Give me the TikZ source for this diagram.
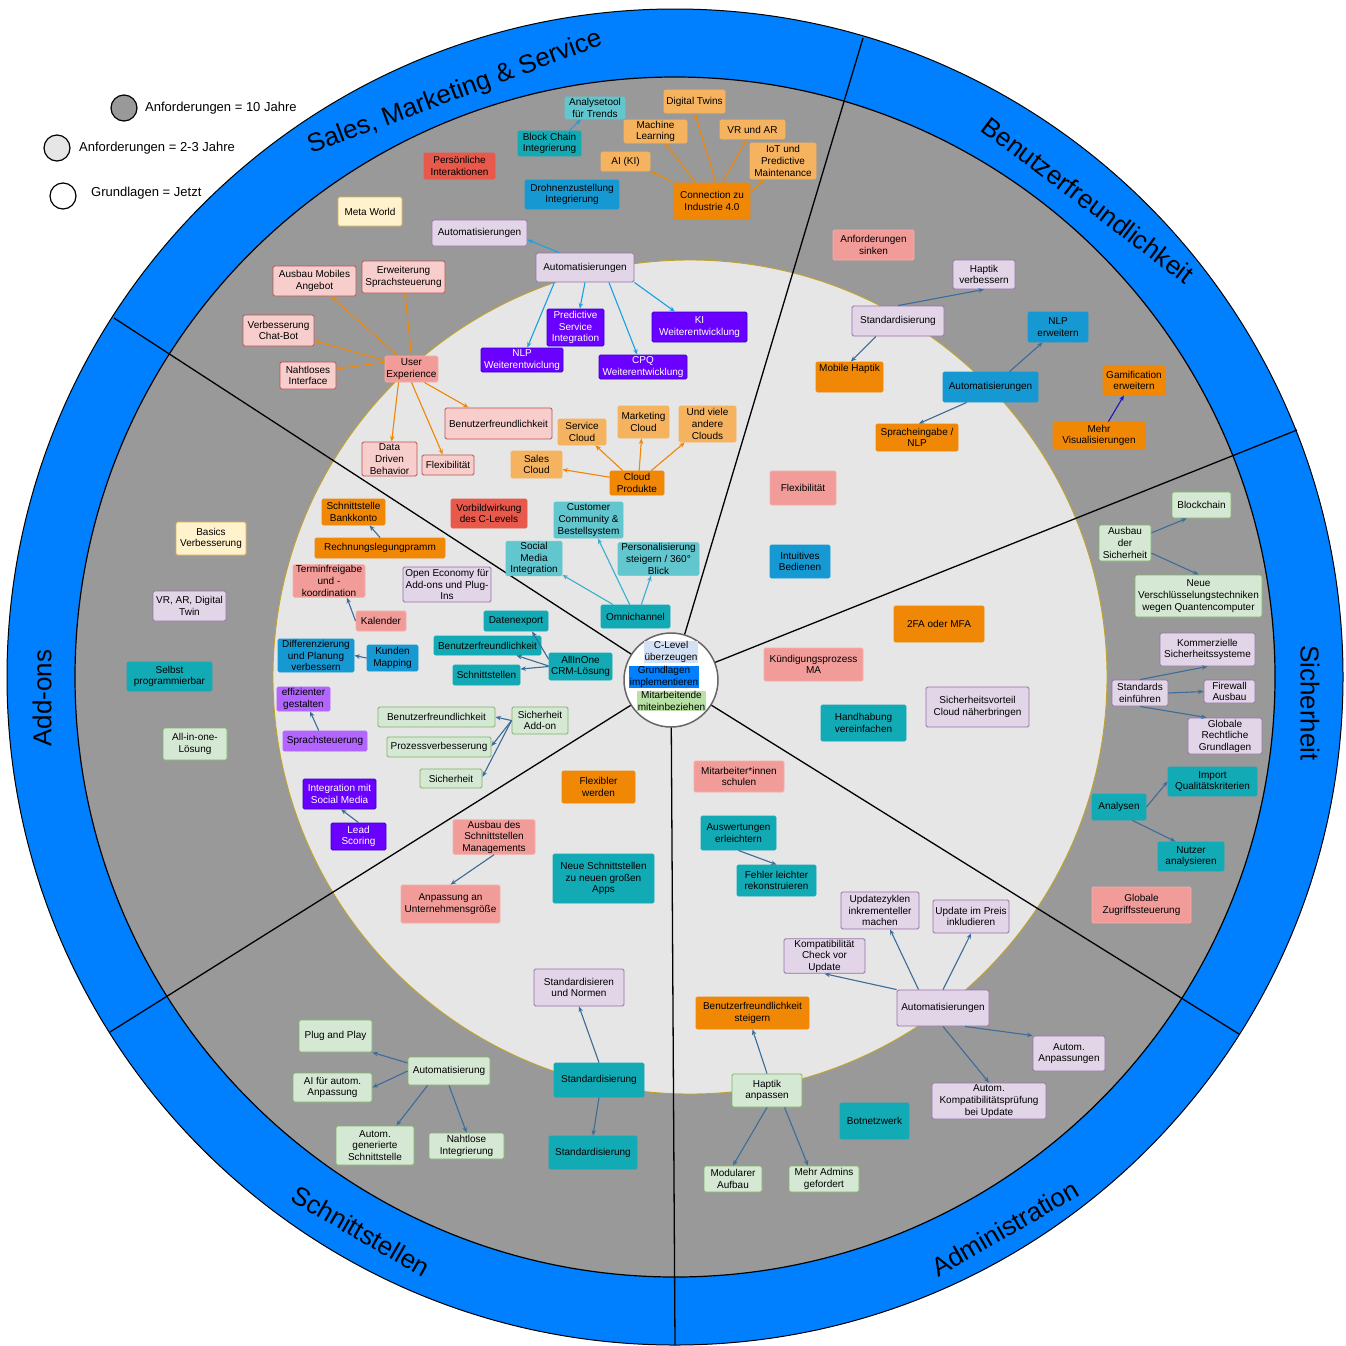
\documentclass[tikz,border=0pt]{standalone}
\usepackage{fontspec}
\setmainfont{Liberation Sans}
\usetikzlibrary{arrows.meta}

\definecolor{ringblue}{HTML}{007FFF}
\definecolor{ringgray}{HTML}{999999}
\definecolor{corelight}{HTML}{E6E6E6}
\definecolor{coreedge}{HTML}{BFA22A}
\definecolor{pinkF}{HTML}{F8CECC}\definecolor{pinkD}{HTML}{B85450}
\definecolor{salF}{HTML}{F19C99}\definecolor{salD}{HTML}{F4AEAB}
\definecolor{redF}{HTML}{E9594B}
\definecolor{yelF}{HTML}{FFF2CC}\definecolor{yelD}{HTML}{D6B656}
\definecolor{lilF}{HTML}{E1D5E7}\definecolor{lilD}{HTML}{9673A6}
\definecolor{orlF}{HTML}{F6B35F}
\definecolor{ordF}{HTML}{F08705}
\definecolor{tealL}{HTML}{62C6CF}
\definecolor{tealF}{HTML}{12AAB5}
\definecolor{bluF}{HTML}{1699D3}
\definecolor{vioF}{HTML}{6A00FF}\definecolor{vioD}{HTML}{3700CC}
\definecolor{lvioF}{HTML}{B266FF}
\definecolor{grnF}{HTML}{D5E8D4}\definecolor{grnD}{HTML}{82B366}
\definecolor{arrOr}{HTML}{F08705}
\definecolor{arrLb}{HTML}{1BA1E2}
\definecolor{arrCy}{HTML}{3AB0CE}
\definecolor{arrSt}{HTML}{3D6D99}
\definecolor{arrNv}{HTML}{1A1AB0}
\definecolor{hlBlue}{HTML}{D4E1F5}
\definecolor{hlDeep}{HTML}{007FFF}
\definecolor{hlGreen}{HTML}{B9E0A5}

% box given by its corners (x1,y1) (x2,y2), y counted downwards
\newcommand\bxn[7]{%
  \pgfmathsetmacro\bcx{(#2+#4)/2}%
  \pgfmathsetmacro\bcy{(#3+#5)/2}%
  \pgfmathsetmacro\bw{#4-#2}%
  \pgfmathsetmacro\bh{#5-#3}%
  \node[box,#6,minimum width=\bw pt,minimum height=\bh pt] (#1) at (\bcx,\bcy) {#7};}

\begin{document}
\begin{tikzpicture}[x=1pt,y=-1pt,
  box/.style={rectangle,rounded corners=1.5pt,line width=0.9pt,inner sep=1pt,
    align=center,font=\fontsize{10}{11.6}\selectfont},
  pinkb/.style={fill=pinkF,draw=pinkD},
  salb/.style={fill=salF,draw=salD},
  redb/.style={fill=redF,draw=redF},
  yelb/.style={fill=yelF,draw=yelD},
  lilb/.style={fill=lilF,draw=lilD},
  orlb/.style={fill=orlF,draw=orlF},
  ordb/.style={fill=ordF,draw=ordF},
  tlb/.style={fill=tealL,draw=tealL},
  tdb/.style={fill=tealF,draw=tealF},
  blub/.style={fill=bluF,draw=bluF},
  viob/.style={fill=vioF,draw=vioD,text=white},
  lviob/.style={fill=lvioF,draw=lvioF},
  grnb/.style={fill=grnF,draw=grnD},
  arr/.style={line width=1.1pt,-{Stealth[length=5.5pt,width=4.5pt]}},
  ao/.style={arr,draw=arrOr,fill=arrOr},
  alb/.style={arr,draw=arrLb,fill=arrLb},
  acy/.style={arr,draw=arrCy,fill=arrCy},
  ast/.style={arr,draw=arrSt,fill=arrSt},
  anv/.style={arr,draw=arrNv,fill=arrNv},
  divline/.style={line width=1.3pt,black},
  sectitle/.style={font=\fontsize{26}{30}\selectfont,inner sep=0pt},
  legtext/.style={font=\fontsize{13}{15}\selectfont,inner sep=0pt,anchor=west},
  legdot/.style={circle,draw=black,line width=1.2pt,minimum size=26pt,inner sep=0pt},
  hl/.style={inner xsep=0.5pt,inner ysep=0.3pt,align=center,font=\fontsize{10}{12}\selectfont},
]
\useasboundingbox (0,0) rectangle (1346,1345);

% rings
\fill[ringblue,draw=black,line width=1pt] (675,677) circle[radius=668pt];
\fill[ringgray,draw=black,line width=1.2pt] (675,677) circle[radius=600pt];
\fill[corelight,draw=coreedge,line width=0.9pt] (690,677) circle[radius=417pt];

% sector dividers
\coordinate (ctr) at (671,680);
\coordinate (d1) at (863,38);
\coordinate (d2) at (1297,430);
\coordinate (d3) at (1239,1034);
\coordinate (d4) at (675,1345);
\coordinate (d5) at (110,1032);
\coordinate (d6) at (114,318);
\foreach \d in {d1,d2,d3,d4,d5,d6} \draw[divline] (ctr) -- (\d);

% core
\node[circle,fill=white,draw=black!60,line width=1.5pt,minimum size=94pt,inner sep=0pt] (core) at (671,680) {};
\node[hl,fill=hlBlue] (cl1) at (671,652) {C-Level\\überzeugen};
\node[hl,fill=hlDeep] (cl2) at (664,677) {Grundlagen\\implementieren};
\node[hl,fill=hlGreen] (cl3) at (671.5,701) {Mitarbeitende\\miteinbeziehen};

% section titles
\node[sectitle,rotate=20.5] (tsales) at (455,93) {Sales, Marketing \& Service};
\node[sectitle,rotate=-37] (tbenu) at (1088,200) {Benutzerfreundlichkeit};
\node[sectitle,rotate=-90] (tsich) at (1310,703) {Sicherheit};
\node[sectitle,rotate=30] (tadmin) at (1005,1228) {Administration};
\node[sectitle,rotate=-30] (tschn) at (361,1231) {Schnittstellen};
\node[sectitle,rotate=90] (tadd) at (42,698) {Add-ons};

% legend
\node[legdot,fill=ringgray] (lg1) at (124,108) {};
\node[legtext] (lt1) at (145,108) {Anforderungen = 10 Jahre};
\node[legdot,fill=corelight] (lg2) at (57,148) {};
\node[legtext] (lt2) at (79,148) {Anforderungen = 2-3 Jahre};
\node[legdot,fill=white] (lg3) at (63,196) {};
\node[legtext] (lt3) at (91,193) {Grundlagen = Jetzt};

% ---- Sales, Marketing & Service
\bxn{pers}{424}{153}{495}{179}{redb}{Persönliche\\Interaktionen}
\bxn{meta}{338}{197}{402}{226}{yelb}{Meta World}
\bxn{auto1}{432}{220}{527}{246}{lilb}{Automatisierungen}
\bxn{ausm}{273}{266}{356}{296}{pinkb}{Ausbau Mobiles\\Angebot}
\bxn{erwsp}{362}{261}{445}{293}{pinkb}{Erweiterung\\Sprachsteuerung}
\bxn{vchat}{243}{315}{314}{346}{pinkb}{Verbesserung\\Chat-Bot}
\bxn{naht}{280}{362}{336}{389}{pinkb}{Nahtloses\\Interface}
\bxn{ux}{385}{356}{438}{382}{salb}{User\\Experience}
\bxn{ddb}{362}{442}{417}{476}{pinkb}{Data\\Driven\\Behavior}
\bxn{flex1}{422}{455}{474}{475}{pinkb}{Flexibilität}
\bxn{bf1}{445}{408}{552}{439}{pinkb}{Benutzerfreundlichkeit}
\bxn{ana}{565}{97}{625}{119}{tlb}{Analysetool\\für Trends}
\bxn{dtw}{664}{90}{725}{113}{orlb}{Digital Twins}
\bxn{ml}{624}{120}{687}{143}{orlb}{Machine\\Learning}
\bxn{vrar}{720}{120}{785}{139}{orlb}{VR und AR}
\bxn{iot}{750}{143}{816}{179}{orlb}{IoT und\\Predictive\\Maintenance}
\bxn{ai}{601}{152}{650}{171}{orlb}{AI (KI)}
\bxn{bc}{518}{131}{581}{156}{tdb}{Block Chain\\Integrierung}
\bxn{dro}{525}{180}{619}{209}{blub}{Drohnenzustellung\\Integrierung}
\bxn{conn}{674}{183}{750}{219}{ordb}{Connection zu\\Industrie 4.0}
\bxn{auto2}{536}{253}{634}{282}{lilb}{Automatisierungen}
\bxn{pred}{547}{309}{604}{346}{viob}{Predictive\\Service\\Integration}
\bxn{ki}{652}{312}{747}{342}{viob}{KI\\Weiterentwicklung}
\bxn{nlp}{481}{348}{563}{372}{viob}{NLP\\Weiterentwiclung}
\bxn{cpq}{599}{355}{687}{379}{viob}{CPQ\\Weiterentwicklung}
\bxn{svc}{558}{419}{606}{445}{orlb}{Service\\Cloud}
\bxn{mkc}{618}{406}{669}{438}{orlb}{Marketing\\Cloud}
\bxn{uvc}{679}{406}{736}{442}{orlb}{Und viele\\andere\\Clouds}
\bxn{slc}{511}{451}{562}{478}{orlb}{Sales\\Cloud}
\bxn{cld}{610}{471}{664}{495}{ordb}{Cloud\\Produkte}
\bxn{vorb}{451}{499}{527}{528}{redb}{Vorbildwirkung\\des C-Levels}
\bxn{cust}{554}{502}{623}{538}{tlb}{Customer\\Community \&\\Bestellsystem}
\bxn{smi}{506}{542}{562}{575}{tlb}{Social\\Media\\Integration}
\bxn{pers2}{618}{543}{699}{575}{tlb}{Personalisierung\\steigern / 360°\\Blick}
\bxn{omni}{601}{605}{670}{628}{tdb}{Omnichannel}

% ---- Benutzerfreundlichkeit
\bxn{anfs}{833}{230}{914}{260}{salb}{Anforderungen\\sinken}
\bxn{std1}{852}{306}{944}{336}{lilb}{Standardisierung}
\bxn{hapv}{953}{260}{1015}{289}{lilb}{Haptik\\verbessern}
\bxn{mobh}{816}{362}{883}{392}{ordb}{Mobile Haptik\\[6pt]}
\bxn{nlpe}{1028}{312}{1088}{342}{blub}{NLP\\erweitern}
\bxn{autob}{943}{372}{1038}{402}{blub}{Automatisierungen}
\bxn{gam}{1103}{366}{1165}{395}{ordb}{Gamification\\erweitern}
\bxn{mvis}{1053}{422}{1145}{449}{ordb}{Mehr\\Visualisierungen}
\bxn{spr}{876}{424}{958}{451}{ordb}{Spracheingabe /\\NLP}
\bxn{flex2}{770}{471}{836}{505}{salb}{Flexibilität}
\bxn{intu}{770}{545}{830}{578}{blub}{Intuitives\\Bedienen}
\bxn{tfa}{894}{606}{984}{642}{ordb}{2FA oder MFA}
\bxn{kuend}{764}{648}{863}{681}{salb}{Kündigungsprozess\\MA}
\bxn{hand}{821}{705}{906}{741}{tdb}{Handhabung\\vereinfachen}
\bxn{sichv}{926}{687}{1029}{727}{lilb}{Sicherheitsvorteil\\Cloud näherbringen}

% ---- Sicherheit
\bxn{blk}{1172}{492}{1231}{518}{grnb}{Blockchain}
\bxn{ausS}{1099}{525}{1151}{561}{grnb}{Ausbau\\der\\Sicherheit}
\bxn{neuv}{1135}{575}{1262}{617}{grnb}{Neue\\Verschlüsselungstechniken\\wegen Quantencomputer}
\bxn{komm}{1160}{633}{1255}{666}{lilb}{Kommerzielle\\Sicherheitssysteme}
\bxn{stde}{1112}{680}{1168}{706}{lilb}{Standards\\einführen}
\bxn{fire}{1204}{680}{1255}{703}{lilb}{Firewall\\Ausbau}
\bxn{glrg}{1188}{718}{1262}{754}{lilb}{Globale\\Rechtliche\\Grundlagen}
\bxn{imp}{1168}{767}{1257}{796}{tdb}{Import\\Qualitätskriterien}
\bxn{anal}{1092}{794}{1146}{820}{tdb}{Analysen}
\bxn{nutz}{1158}{842}{1224}{871}{tdb}{Nutzer\\analysieren}
\bxn{glz}{1092}{887}{1191}{923}{salb}{Globale\\Zugriffssteuerung}

% ---- Administration
\bxn{mita}{694}{761}{784}{792}{salb}{Mitarbeiter*innen\\schulen}
\bxn{ausw}{701}{816}{776}{850}{tdb}{Auswertungen\\erleichtern}
\bxn{fehl}{737}{865}{816}{896}{tdb}{Fehler leichter\\rekonstruieren}
\bxn{updz}{841}{892}{919}{929}{lilb}{Updatezyklen\\inkrementeller\\machen}
\bxn{updp}{933}{900}{1009}{933}{lilb}{Update im Preis\\inkludieren}
\bxn{komc}{784}{939}{865}{973}{lilb}{Kompatibilität\\Check vor\\Update}
\bxn{autoa}{897}{990}{989}{1026}{lilb}{Automatisierungen}
\bxn{autan}{1033}{1036}{1105}{1071}{lilb}{Autom.\\Anpassungen}
\bxn{autk}{932}{1083}{1046}{1119}{lilb}{Autom.\\Kompatibilitätsprüfung\\bei Update}
\bxn{bfst}{696}{997}{809}{1029}{ordb}{Benutzerfreundlichkeit\\steigern}
\bxn{hapa}{732}{1074}{802}{1107}{grnb}{Haptik\\anpassen}
\bxn{mod}{704}{1166}{762}{1192}{grnb}{Modularer\\Aufbau}
\bxn{madm}{789}{1166}{859}{1192}{grnb}{Mehr Admins\\gefordert}
\bxn{bot}{840}{1103}{909}{1139}{tdb}{Botnetzwerk}

% ---- Schnittstellen
\bxn{flexw}{562}{771}{635}{803}{ordb}{Flexibler\\werden}
\bxn{ausb}{453}{821}{535}{853}{salb}{Ausbau des\\Schnittstellen\\Managements}
\bxn{anp}{401}{885}{500}{923}{salb}{Anpassung an\\Unternehmensgröße}
\bxn{neus}{553}{854}{654}{903}{tdb}{Neue Schnittstellen\\zu neuen großen\\Apps}
\bxn{stdn}{534}{969}{624}{1006}{lilb}{Standardisieren\\und Normen}
\bxn{stdm}{554}{1063}{644}{1097}{tdb}{Standardisierung}
\bxn{stdl}{549}{1136}{637}{1169}{tdb}{Standardisierung}
\bxn{plug}{299}{1020}{372}{1052}{grnb}{Plug and Play}
\bxn{aifa}{293}{1073}{372}{1102}{grnb}{AI für autom.\\Anpassung}
\bxn{autg}{408}{1057}{490}{1085}{grnb}{Automatisierung}
\bxn{autgs}{336}{1126}{414}{1165}{grnb}{Autom.\\generierte\\Schnittstelle}
\bxn{nahtI}{429}{1133}{504}{1159}{grnb}{Nahtlose\\Integrierung}

% ---- Add-ons
\bxn{basic}{176}{522}{246}{555}{yelb}{Basics\\Verbesserung}
\bxn{vrad}{153}{591}{226}{621}{lilb}{VR, AR, Digital\\Twin}
\bxn{selbst}{127}{662}{212}{691}{tdb}{Selbst\\programmierbar}
\bxn{allin}{163}{728}{227}{760}{grnb}{All-in-one-\\Lösung}
\bxn{sbk}{322}{499}{385}{525}{ordb}{Schnittstelle\\Bankkonto}
\bxn{rech}{315}{538}{445}{558}{ordb}{Rechnungslegungpramm}
\bxn{term}{293}{565}{365}{597}{salb}{Terminfreigabe\\und -\\koordination}
\bxn{open}{403}{567}{491}{602}{lilb}{Open Economy für\\Add-ons und Plug-\\Ins}
\bxn{kal}{356}{611}{406}{631}{salb}{Kalender}
\bxn{diff}{278}{639}{354}{672}{blub}{Differenzierung\\und Planung\\verbessern}
\bxn{kund}{367}{645}{418}{671}{blub}{Kunden\\Mapping}
\bxn{eff}{277}{687}{330}{711}{lviob}{effizienter\\gestalten}
\bxn{sprs}{283}{731}{367}{751}{lviob}{Sprachsteuerung}
\bxn{ism}{303}{779}{376}{809}{viob}{Integration mit\\Social Media}
\bxn{lead}{331}{823}{386}{850}{viob}{Lead\\Scoring}
\bxn{dexp}{484}{611}{548}{631}{tdb}{Datenexport}
\bxn{bft}{434}{636}{541}{655}{tdb}{Benutzerfreundlichkeit}
\bxn{schn}{453}{665}{520}{685}{tdb}{Schnittstellen}
\bxn{allcrm}{549}{653}{612}{680}{tdb}{AllInOne\\CRM-Lösung}
\bxn{bfg}{378}{707}{495}{727}{grnb}{Benutzerfreundlichkeit}
\bxn{proz}{387}{737}{491}{757}{grnb}{Prozessverbesserung}
\bxn{sich}{420}{769}{482}{788}{grnb}{Sicherheit}
\bxn{sadd}{512}{707}{568}{734}{grnb}{Sicherheit\\Add-on}

% ---- connectors
\draw[ao] (ux.136) -- (ausm.-43);
\draw[ao] (ux.90) -- (erwsp.-85);
\draw[ao] (ux.162) -- (vchat.-16);
\draw[ao] (ux.166) -- (naht.13);
\draw[ao] (ux.-134) -- (ddb.83);
\draw[ao] (ux.-90) -- (flex1.117);
\draw[ao] (ux.-46) -- (bf1.152);

\draw[ao] (conn.north west) -- (ai.south east);
\draw[ao] (conn.132) -- (ml.-50);
\draw[ao] (conn.78) -- (dtw.-88);
\draw[ao] (conn.61) -- (vrar.-120);
\draw[ao] (conn.13) -- (iot.-135);

\draw[alb] (bc.33) -- (ana.-141);
\draw[alb] (auto2.150) -- (auto1.-8);
\draw[alb] (auto2.-154) -- (nlp.67);
\draw[alb] (auto2.-90) -- (pred.77);
\draw[alb] (auto2.-32) -- (cpq.115);
\draw[alb] (auto2.south east) -- (ki.148);

\draw[ao] (cld.168) -- (slc.-11);
\draw[ao] (cld.139) -- (svc.-45);
\draw[ao] (cld.80) -- (mkc.-97);
\draw[ao] (cld.41) -- (uvc.-141);

\draw[acy] (omni.152) -- (smi.-30);
\draw[acy] (omni.116) -- (cust.-63);
\draw[acy] (omni.64) -- (pers2.-114);

\draw[ast] (allcrm.167) -- (dexp.-33);
\draw[ast] (allcrm.179) -- (bft.-19);
\draw[ast] (allcrm.180) -- (schn.10);

\draw[ast] (sadd.west) -- (bfg.east);
\draw[ast] (sadd.west) -- (proz.1);
\draw[ast] (sadd.west) -- (sich.3);

\draw[ast] (rech.north) -- (sbk.-40);
\draw[ast] (kal.west) -- (term.-43);
\draw[ast] (kund.west) -- (diff.east);
\draw[ast] (sprs.121) -- (eff.-62);
\draw[ast] (lead.north) -- (ism.-84);
\draw[ast] (ausb.south) -- (anp.north);

\draw[ast] (std1.north) -- (hapv.south);
\draw[ast] (std1.-145) -- (mobh.85);
\draw[ast] (autob.39) -- (nlpe.-135);
\draw[ast] (autob.-147) -- (spr.82);
\draw[anv] (mvis.56) -- (gam.-124);

\draw[ast] (ausS.21) -- (blk.-138);
\draw[ast] (ausS.-21) -- (neuv.north);
\draw[ast] (stde.north) -- (komm.south);
\draw[ast] (stde.east) -- (fire.west);
\draw[ast] (stde.south) -- (glrg.135);
\draw[ast] (anal.east) -- (imp.west);
\draw[ast] (anal.-45) -- (nutz.136);

\draw[ast] (ausw.south) -- (fehl.north);
\draw[ast] (autoa.143) -- (updz.-62);
\draw[ast] (autoa.north) -- (updp.south);
\draw[ast] (autoa.north west) -- (komc.south);
\draw[ast] (autoa.-40) -- (autan.north west);
\draw[ast] (autoa.south) -- (autk.north);
\draw[ast] (hapa.north) -- (bfst.south);
\draw[ast] (hapa.south) -- (mod.north);
\draw[ast] (hapa.-44) -- (madm.140);

\draw[ast] (stdm.north) -- (stdn.south);
\draw[ast] (stdm.south) -- (stdl.north);
\draw[ast] (autg.169) -- (plug.south east);
\draw[ast] (autg.west) -- (aifa.east);
\draw[ast] (autg.-146) -- (autgs.43);
\draw[ast] (autg.south) -- (nahtI.north);
\end{tikzpicture}
\end{document}
